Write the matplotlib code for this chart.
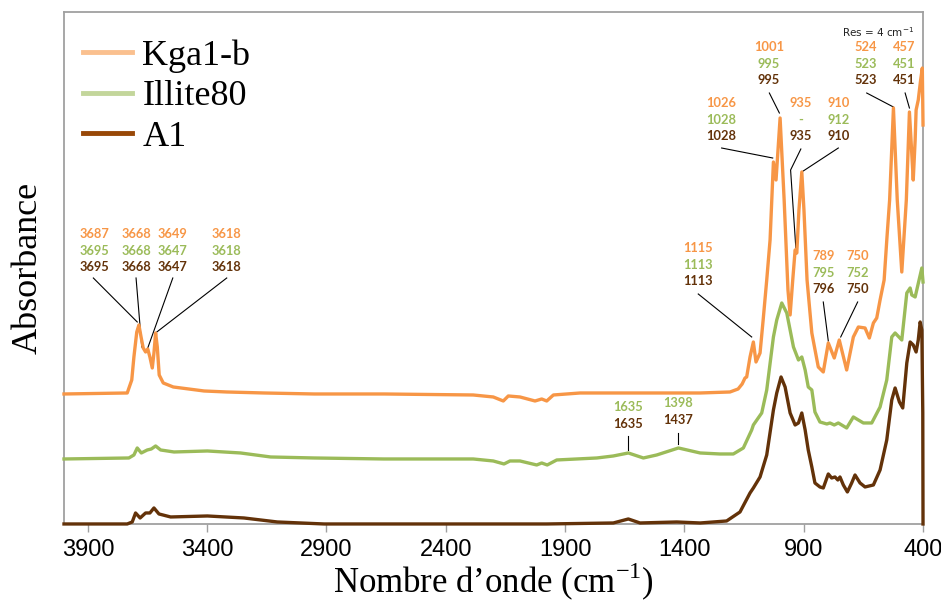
import numpy as np
import matplotlib
matplotlib.use("Agg")
import matplotlib.pyplot as plt
from matplotlib.lines import Line2D

# Spectra: wavenumber (cm-1) and absorbance (a.u.)
kga_wn = [4000, 3735, 3716, 3707, 3695, 3686, 3677, 3668, 3658, 3649, 3640, 3630,
          3623, 3616, 3609, 3601, 3584, 3542, 3413, 3318, 3162, 2952, 2659, 2285,
          2201, 2159, 2138, 2089, 2026, 1998, 1977, 1949, 1837, 1642, 1334, 1209,
          1175, 1158, 1146, 1139, 1125, 1111, 1100, 1083, 1070, 1055, 1041, 1027,
          1016, 999, 982, 966, 957, 946, 936, 929, 920, 908, 899, 886, 866, 839,
          818, 797, 772, 751, 720, 692, 671, 643, 625, 608, 594, 580, 563, 551,
          540, 524, 508, 489, 470, 457, 448, 441, 433, 429, 420, 410, 403, 400]
kga_abs = [1.30, 1.31, 1.44, 1.67, 1.92, 1.99, 1.87, 1.76, 1.72, 1.75, 1.67, 1.56,
           1.71, 1.91, 1.77, 1.49, 1.41, 1.37, 1.33, 1.32, 1.31, 1.30, 1.30, 1.29,
           1.27, 1.23, 1.28, 1.27, 1.23, 1.25, 1.23, 1.29, 1.31, 1.31, 1.31, 1.32,
           1.35, 1.40, 1.46, 1.47, 1.67, 1.82, 1.62, 1.71, 2.04, 2.44, 2.84, 3.62,
           3.44, 4.06, 3.24, 2.34, 2.09, 2.44, 2.74, 2.71, 3.14, 3.52, 3.14, 2.44,
           1.91, 1.57, 1.52, 1.81, 1.66, 1.84, 1.54, 1.87, 1.97, 1.96, 1.86, 2.01,
           2.06, 2.24, 2.44, 2.87, 3.24, 4.16, 3.24, 2.52, 3.24, 4.12, 3.74, 3.44,
           3.84, 4.14, 4.24, 4.44, 4.56, 3.99]

ill_wn = [4000, 3728, 3707, 3693, 3676, 3651, 3634, 3616, 3595, 3539, 3399, 3260,
          3134, 2952, 2659, 2285, 2201, 2156, 2131, 2089, 2019, 1998, 1975, 1935,
          1767, 1698, 1635, 1572, 1516, 1425, 1334, 1251, 1195, 1153, 1118, 1111,
          1076, 1055, 1027, 1013, 992, 971, 943, 922, 908, 894, 881, 866, 853, 832,
          803, 790, 772, 755, 741, 720, 692, 671, 650, 615, 580, 552, 531, 517,
          489, 468, 454, 447, 433, 405, 400]
ill_abs = [0.65, 0.66, 0.69, 0.76, 0.71, 0.74, 0.75, 0.78, 0.74, 0.72, 0.73, 0.71,
           0.67, 0.66, 0.65, 0.65, 0.63, 0.60, 0.63, 0.63, 0.59, 0.61, 0.59, 0.64,
           0.66, 0.68, 0.71, 0.66, 0.69, 0.76, 0.71, 0.70, 0.70, 0.76, 0.94, 0.99,
           1.11, 1.34, 1.87, 2.04, 2.21, 2.11, 1.77, 1.64, 1.67, 1.54, 1.37, 1.34,
           1.12, 1.02, 1.00, 1.01, 0.99, 1.01, 0.99, 0.96, 1.07, 1.04, 1.01, 1.01,
           1.17, 1.44, 1.87, 1.91, 1.84, 2.31, 2.36, 2.29, 2.27, 2.56, 2.42]

a1_wn = [4000, 3735, 3714, 3700, 3681, 3658, 3640, 3623, 3602, 3553, 3399, 3246,
         3106, 2910, 2659, 2145, 1977, 1698, 1635, 1586, 1432, 1334, 1223, 1167,
         1125, 1111, 1083, 1055, 1027, 1013, 995, 978, 957, 936, 922, 908, 894,
         881, 866, 853, 832, 818, 797, 783, 769, 757, 748, 734, 717, 699, 685,
         664, 643, 608, 580, 552, 531, 517, 499, 485, 468, 454, 441, 429, 420,
         412, 405, 401, 400]
a1_abs = [0.00, 0.00, 0.02, 0.11, 0.06, 0.11, 0.11, 0.16, 0.10, 0.07, 0.08, 0.06,
          0.02, 0.00, 0.00, 0.00, 0.00, 0.01, 0.05, 0.01, 0.02, 0.01, 0.03, 0.12,
          0.31, 0.36, 0.47, 0.69, 1.14, 1.31, 1.47, 1.37, 1.11, 0.99, 1.01, 1.11,
          0.94, 0.74, 0.57, 0.41, 0.37, 0.36, 0.50, 0.46, 0.47, 0.44, 0.47, 0.39,
          0.32, 0.41, 0.49, 0.41, 0.37, 0.39, 0.54, 0.84, 1.24, 1.36, 1.22, 1.16,
          1.61, 1.82, 1.79, 1.72, 1.84, 2.02, 1.94, 1.11, 0.00]

series_names = ["Kga1-b", "Illite80", "A1"]
line_colors = ["#F79646", "#9BBB59", "#633209"]
legend_colors = ["#FAC08F", "#C3D69B", "#984807"]
text_colors = ["#F79646", "#9BBB59", "#633209"]

x_ticks = [3900, 3400, 2900, 2400, 1900, 1400, 900, 400]

# Peak labels: (Kga1-b, Illite80, A1); None = no row for that sample
peak_labels = [
    ("3687", "3695", "3695"), ("3668", "3668", "3668"), ("3649", "3647", "3647"),
    ("3618", "3618", "3618"), ("1115", "1113", "1113"), ("1026", "1028", "1028"),
    ("1001", "995", "995"), ("935", "-", "935"), ("910", "912", "910"),
    ("789", "795", "796"), ("750", "752", "750"), ("524", "523", "523"),
    ("457", "451", "451"), (None, "1635", "1635"), (None, "1398", "1437"),
]
# label placement (wn, top row) and leader line vertices
label_pos = [(3874, 2.90), (3698, 2.90), (3544, 2.90), (3318, 2.90),
             (1343, 2.76), (1248, 4.21), (1045, 4.77), (912, 4.21), (755, 4.21),
             (818, 2.68), (674, 2.68), (640, 4.77), (480, 4.77),
             (1635, 1.17), (1425, 1.21)]
leaders = [
    [(3877, 2.46), (3693, 2.02)], [(3698, 2.46), (3674, 1.77)],
    [(3544, 2.46), (3649, 1.76)], [(3318, 2.46), (3611, 1.92)],
    [(1342, 2.30), (1118, 1.87)], [(1244, 3.76), (1030, 3.66)],
    [(1044, 4.31), (1002, 4.11)], [(912, 3.75), (955, 3.54), (933, 2.76)],
    [(755, 3.76), (902, 3.53)], [(818, 2.22), (797, 1.83)],
    [(674, 2.22), (745, 1.87)], [(636, 4.31), (524, 4.17)],
    [(475, 4.31), (457, 4.16)], [(1635, 0.88), (1635, 0.74)],
    [(1425, 0.91), (1425, 0.80)],
]

plt.rcParams["mathtext.fontset"] = "custom"
plt.rcParams["mathtext.rm"] = "Liberation Serif"

fig = plt.figure(figsize=(9.41, 6.04), dpi=100)
ax = fig.add_axes([0.068, 0.1325, 0.9129, 0.8476])

spectra = [(kga_wn, kga_abs), (ill_wn, ill_abs), (a1_wn, a1_abs)]
for (wn, ab), c in zip(spectra, line_colors):
    ax.plot(wn, ab, color=c, lw=2.4, solid_joinstyle="round", clip_on=False, zorder=3)

ax.set_xlim(4000, 400)
ax.set_ylim(0, 5.12)
ax.set_xticks(x_ticks)
ax.set_xticklabels([str(t) for t in x_ticks],
                   fontfamily=["Liberation Sans Narrow", "Liberation Sans"], fontsize=17)
ax.set_yticks([])
ax.tick_params(axis="x", direction="out", length=6, width=1, color="#A0A0A0", pad=5)
for sp in ax.spines.values():
    sp.set_color("#A0A0A0")
    sp.set_linewidth(1.3)

ax.set_xlabel("Nombre d\u2019onde (cm$^{\\mathregular{-1}}$)", fontfamily="Liberation Serif",
              fontsize=25, labelpad=0)
ax.set_ylabel("Absorbance", fontfamily="Liberation Serif", fontsize=26, labelpad=14)

row_step = 0.167
for labels, (lx, ly), pts in zip(peak_labels, label_pos, leaders):
    rows = [(t, c) for t, c in zip(labels, text_colors) if t is not None]
    for i, (t, c) in enumerate(rows):
        ax.text(lx, ly - i * row_step, t, color=c, fontfamily="Lato",
                fontweight="bold", fontsize=9.3, ha="center", va="center", zorder=4)
    xs, ys = zip(*pts)
    ax.plot(xs, ys, color="black", lw=0.8, zorder=2)

ax.text(0.99, 0.975, "Res = 4 cm$^{-1}$", transform=ax.transAxes, ha="right",
        va="top", fontsize=7.5, fontfamily="DejaVu Sans", color="#222222",
        math_fontfamily="dejavusans")

handles = [Line2D([], [], color=c, lw=3.5) for c in legend_colors]
fig.legend(handles, series_names, loc="upper left", bbox_to_anchor=(0.088, 0.935),
           frameon=False, prop={"family": "Liberation Serif", "size": 26},
           handlelength=1.35, handletextpad=0.3, labelspacing=0.2,
           borderpad=0, borderaxespad=0)

fig.savefig("out.png", dpi=100)
